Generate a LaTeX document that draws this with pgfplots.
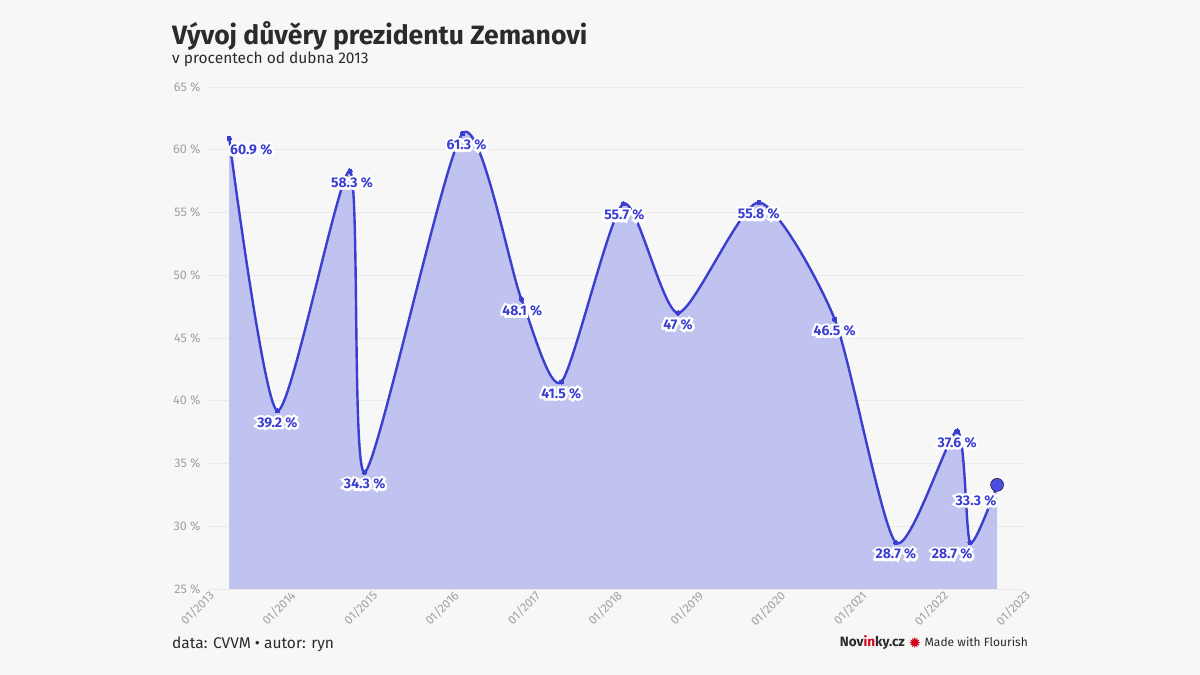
\documentclass[border=0pt]{standalone}
\usepackage{fontspec}
\setmainfont{Fira Sans}
\newfontface\halofont{Fira Sans Bold}[FakeBold=34]
\newfontfamily\dejavu{DejaVu Sans}
\usepackage{pgfplots}
\pgfplotsset{compat=1.18}
\usepackage{pgfplotstable}
\definecolor{bg}{HTML}{F7F7F7}
\definecolor{lineblue}{HTML}{3B3FD0}
\definecolor{dotblue}{HTML}{4A4FE0}
\definecolor{fillblue}{HTML}{C0C2EF}
\definecolor{gridc}{HTML}{E9E9E9}
\definecolor{tickc}{HTML}{A0A0A0}
\definecolor{txt}{HTML}{2B2B2B}
\definecolor{novred}{HTML}{D0021B}
\newcommand\halo[1]{\leavevmode\rlap{\color{white}\halofont #1}#1}

\pgfplotstableread{
x y dx dy
2013.26 60.9 22 0
2013.85 39.2 0 0
2014.74 58.3 2 0
2014.92 34.3 0 0
2016.12 61.3 4 0
2016.84 48.1 1 0
2017.33 41.5 0 0
2018.09 55.7 1 0
2018.76 47.0 0 0
2019.75 55.8 0 0
2020.68 46.5 0 0
2021.43 28.7 0 0
2022.18 37.6 0 0
2022.34 28.7 -18 0
2022.67 33.3 -21 -4
}\datatable

\begin{document}
\begin{tikzpicture}[x=1pt,y=1pt]
\fill[bg] (0,0) rectangle (1200,675);
\begin{axis}[
  at={(208pt,86pt)}, anchor=south west,
  scale only axis, width=816pt, height=502pt,
  xmin=2013, xmax=2023, ymin=25, ymax=65,
  clip=false,
  axis line style={draw=none},
  tick style={draw=none},
  ymajorgrids, grid style={gridc, line width=0.9pt},
  ytick={25,30,...,65},
  xtick={2013,...,2023},
  xticklabels={01/2013,01/2014,01/2015,01/2016,01/2017,01/2018,01/2019,01/2020,01/2021,01/2022,01/2023},
  /pgf/number format/assume math mode=true,
  yticklabel={\pgfmathprintnumber{\tick}~\%},
  yticklabel style={font=\fontsize{12.5}{12.5}\selectfont, text=tickc, xshift=-4pt},
  xticklabel style={rotate=45, anchor=east, font=\fontsize{12}{12}\selectfont, text=tickc, yshift=-6pt, xshift=3pt},
]
\addplot[draw=none, fill=fillblue, smooth, tension=0.4] table[x=x,y=y]{\datatable} \closedcycle;
\addplot[lineblue, line width=2.4pt, smooth, tension=0.4, mark=*, mark size=2.2pt, mark options={draw=lineblue, fill=lineblue, line width=0pt}] table[x=x,y=y]{\datatable};
\addplot[only marks, mark=*, mark size=6.5pt, mark options={draw=none, fill=dotblue}] coordinates {(2022.67,33.3)};
\addplot[draw=none, mark=none, point meta=y,
  visualization depends on={\thisrow{dx} \as \dx},
  visualization depends on={\thisrow{dy} \as \dy},
  nodes near coords={\halo{\pgfmathprintnumber[precision=1]{\pgfplotspointmeta}~\%}},
  nodes near coords style={anchor=north, xshift=\dx pt, yshift=\dy pt - 5pt, inner sep=1pt, font=\bfseries\fontsize{14}{14}\selectfont, text=lineblue}
] table[x=x,y=y]{\datatable};
\end{axis}
\node[anchor=base west, inner sep=0pt, font=\bfseries\fontsize{26.5}{26.5}\selectfont, text=txt] at (172,630) {Vývoj důvěry prezidentu Zemanovi};
\node[anchor=base west, inner sep=0pt, font=\fontsize{15.5}{15.5}\selectfont, text=txt] at (172,611) {v procentech od dubna 2013};
\node[anchor=base west, inner sep=0pt, font=\fontsize{15.5}{15.5}\selectfont, text=txt] at (172,27) {data: CVVM • autor: ryn};
\node[anchor=base east, inner sep=0pt, font=\fontsize{12}{12}\selectfont, text=txt] at (1028,28) {Made with Flourish};
\node[anchor=base, inner sep=0pt, font=\dejavu\fontsize{15}{15}\selectfont, text=novred] at (915,27) {✹};
\node[anchor=base east, inner sep=0pt, font=\bfseries\fontsize{13.5}{13.5}\selectfont, text=txt] at (905,28) {Nov{\color{novred}in}ky.cz};
\end{tikzpicture}
\end{document}
